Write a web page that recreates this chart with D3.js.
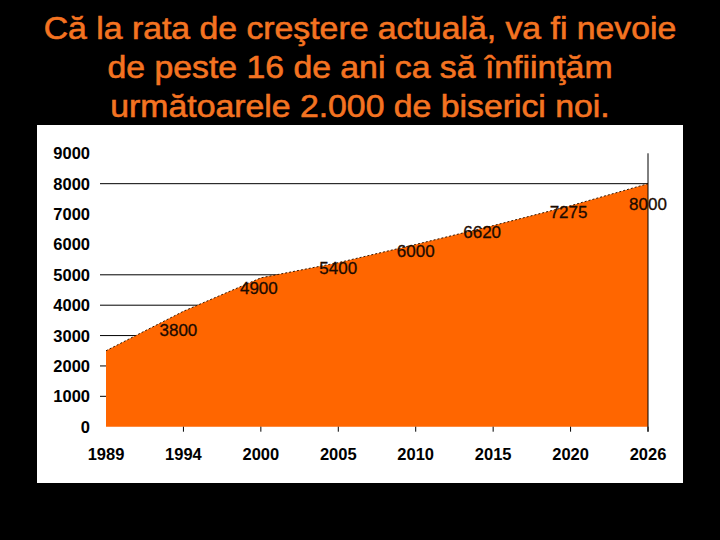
<!DOCTYPE html>
<html><head><meta charset="utf-8">
<script src="https://cdn.jsdelivr.net/npm/d3@7"></script>
<style>html,body{margin:0;padding:0;background:#000;}svg{display:block;}</style>
</head><body>
<script>
const titleLines = ["Că la rata de creştere actuală, va fi nevoie", "de peste 16 de ani ca să înfiinţăm", "următoarele 2.000 de biserici noi."];
const years = ["1989", "1994", "2000", "2005", "2010", "2015", "2020", "2026"];
const values = [2500, 3800, 4900, 5400, 6000, 6620, 7275, 8000];
const pointLabels = [null, "3800", "4900", "5400", "6000", "6620", "7275", "8000"];
const yTicks = [0, 1000, 2000, 3000, 4000, 5000, 6000, 7000, 8000, 9000];
const gridValues = [1000, 2000, 3000, 4000, 5000, 8000];
const labelDx = [0, -5, -2, 0, 0, -11, -2, 0];
const labelDy = [0, 25, 16, 11, 13, 12, 12, 26];

const W = 720, H = 540;
const svg = d3.select("body").append("svg").attr("width", W).attr("height", H);
svg.append("rect").attr("width", W).attr("height", H).attr("fill", "#000");

svg.append("g").attr("transform", "translate(360,0) scale(1.09,1)")
  .selectAll("text").data(titleLines).join("text")
  .attr("x", 0).attr("y", (d, i) => 39 + i * 38.8)
  .attr("text-anchor", "middle")
  .attr("font-family", "Liberation Sans, Arial, sans-serif")
  .attr("font-size", 31).attr("fill", "#f47321")
  .attr("stroke", "#f47321").attr("stroke-width", 0.6).text(d => d);

svg.append("rect").attr("x", 37).attr("y", 125).attr("width", 646).attr("height", 358).attr("fill", "#fff");

const x = d3.scalePoint().domain(years).range([106, 648]).padding(0);
const y = d3.scaleLinear().domain([0, 9000]).range([426.7, 153.3]);

// gridlines
svg.append("g").selectAll("line").data(gridValues).join("line")
  .attr("x1", 100).attr("x2", 648)
  .attr("y1", d => y(d)).attr("y2", d => y(d))
  .attr("stroke", "#000").attr("stroke-width", 1);

const data = years.map((yr, i) => ({yr, v: values[i], i}));
const area = d3.area().x(d => x(d.yr)).y0(y(0)).y1(d => y(d.v));
svg.append("path").datum(data).attr("d", area).attr("fill", "#ff6600");
const line = d3.line().x(d => x(d.yr)).y(d => y(d.v));
svg.append("path").datum(data).attr("d", line).attr("fill", "none")
  .attr("stroke", "#3a1a00").attr("stroke-width", 1).attr("stroke-dasharray", "2,2");

// right vertical line
svg.append("line").attr("x1", 648).attr("x2", 648).attr("y1", y(9000)).attr("y2", y(0) + 5)
  .attr("stroke", "#000").attr("stroke-width", 1);

// x ticks
svg.append("g").selectAll("line").data(years.slice(1)).join("line")
  .attr("x1", d => x(d)).attr("x2", d => x(d))
  .attr("y1", y(0)).attr("y2", y(0) + 5)
  .attr("stroke", "#000").attr("stroke-width", 1);

svg.append("g").selectAll("text").data(years).join("text")
  .attr("x", d => x(d)).attr("y", 460)
  .attr("text-anchor", "middle")
  .attr("font-family", "Liberation Sans, Arial, sans-serif")
  .attr("font-weight", "bold").attr("font-size", 16.5).attr("fill", "#000").text(d => d);

svg.append("g").selectAll("text").data(yTicks).join("text")
  .attr("x", 90).attr("y", d => y(d)).attr("dy", "0.36em")
  .attr("text-anchor", "end")
  .attr("font-family", "Liberation Sans, Arial, sans-serif")
  .attr("font-weight", "bold").attr("font-size", 16.5).attr("fill", "#000").text(d => d);

// point labels
svg.append("g").selectAll("text").data(data.filter(d => pointLabels[d.i] !== null)).join("text")
  .attr("x", d => x(d.yr) + labelDx[d.i])
  .attr("y", d => y(d.v) + labelDy[d.i])
  .attr("text-anchor", "middle")
  .attr("font-family", "Liberation Sans, Arial, sans-serif")
  .attr("font-size", 17).attr("stroke", "#1a0a00").attr("stroke-width", 0.3).attr("fill", "#1a0a00")
  .text(d => pointLabels[d.i]);
</script>
</body></html>
